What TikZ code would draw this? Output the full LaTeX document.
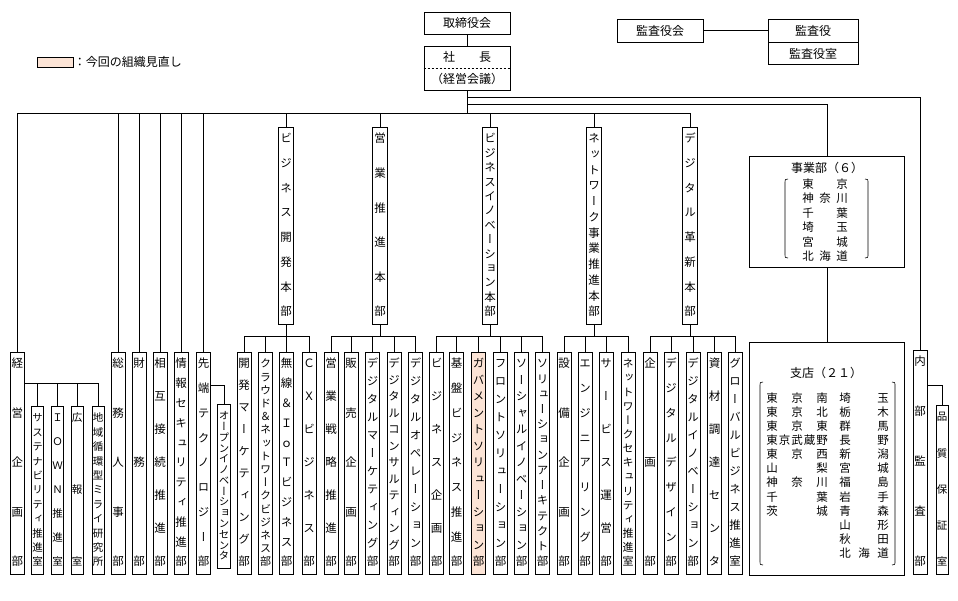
\documentclass[tikz,border=0pt]{standalone}
\usepackage{fontspec}
\usepackage{graphicx}
\newfontfamily\jp{Noto Sans CJK JP}
\newfontfamily\jpv[RawFeature=+vert]{Noto Sans CJK JP}
\definecolor{hl}{RGB}{252,228,214}
\tikzset{
  bx/.style={draw, line width=0.8pt, inner sep=0pt},
  tx/.style={font=\jp\fontsize{12}{14}\selectfont, inner sep=0pt},
  cj/.style={font=\jp\fontsize{11.5}{13}\selectfont, inner sep=0pt},
}
% \vcol[fill]{name}{x}{top}{bottom}{width}{fontsize}{chars}
\newcommand\vcol[8][white]{%
  \pgfmathsetmacro\vh{#5-#4}%
  \node[bx, fill=#1, minimum width=#6pt, minimum height=\vh pt, anchor=north] (#2) at (#3,#4) {};
  \foreach \c [count=\k] in {#8} {\xdef\nch{\k}}%
  \pgfmathsetmacro\vdy{(#5-#4-24)/(\nch-1)}%
  \foreach \c [count=\k] in {#8} {\node[font=\jpv\fontsize{#7}{#7}\selectfont, inner sep=0pt, text height=0.88em, text depth=0.12em] at (#3,{#4+12+(\k-1)*\vdy}) {\c};}%
}
\newcommand\brk[4]{%
  \draw[line width=0.6pt] ({#1+#4*3},#2) .. controls (#1,#2) .. (#1,{#2+5}) -- (#1,{#3-5}) .. controls (#1,#3) .. ({#1+#4*3},#3);
}
\begin{document}
\begin{tikzpicture}[x=1pt,y=-1pt, line width=0.8pt]
\fill[white] (0,0) rectangle (958,600);
\useasboundingbox (0,0) rectangle (958,600);

% legend
\node[bx, fill=hl, minimum width=36pt, minimum height=10pt] (leg) at (55,62) {};
\node[tx, anchor=west] (legt) at (leg.east) {：今回の組織見直し};

% top
\node[bx, tx, minimum width=86pt, minimum height=22pt] (tori) at (467,23) {取締役会};
\node[bx, minimum width=86pt, minimum height=44pt] (shacho) at (467,68) {};
\node[tx] (shachot) at (467,57) {社　　長};
\node[tx] (keieik) at (467,79) {（経営会議）};
\draw[dashed, dash pattern=on 2pt off 2pt] (shacho.west) -- (shacho.east);
\draw (tori.south) -- (shacho.north);

\node[bx, tx, minimum width=86pt, minimum height=23pt] (kai) at (660,30.5) {監査役会};
\node[bx, tx, minimum width=90pt, minimum height=23pt] (yaku) at (813,30.5) {監査役};
\node[bx, tx, minimum width=90pt, minimum height=22pt, anchor=north] (yakus) at (yaku.south) {監査役室};
\draw (kai.east) -- (yaku.west);

% top-level columns
\vcol{keiei}{17.5}{352}{574}{14}{11.5}{経,営,企,画,部}
\vcol{soumu}{118}{352}{574}{14}{11.5}{総,務,人,事,部}
\vcol{zaimu}{139}{352}{574}{14}{11.5}{財,務,部}
\vcol{sougo}{160}{352}{574}{14}{11.5}{相,互,接,続,推,進,部}
\vcol{joho}{181}{352}{574}{14}{11.5}{情,報,セ,キ,ュ,リ,テ,ィ,推,進,部}
\vcol{sentan}{203.5}{352}{574}{14}{11.5}{先,端,テ,ク,ノ,ロ,ジ,ー,部}

% sub of keiei
\vcol{sus}{37.5}{406}{574}{12}{10.5}{サ,ス,テ,ナ,ビ,リ,テ,ィ,推,進,室}
\vcol{iown}{57.5}{406}{574}{12}{10.5}{Ｉ,Ｏ,Ｗ,Ｎ,推,進,室}
\vcol{koho}{77}{406}{574}{12}{10.5}{広,報,室}
\vcol{chiiki}{98}{406}{574}{12}{10.5}{地,域,循,環,型,ミ,ラ,イ,研,究,所}
\vcol{open}{224}{404}{568}{13}{10.5}{オ,ー,プ,ン,イ,ノ,ベ,ー,シ,ョ,ン,セ,ン,タ}

% HQs
\vcol{hq1}{286}{127}{324}{15}{11.5}{ビ,ジ,ネ,ス,開,発,本,部}
\vcol{hq2}{380}{127}{324}{15}{11.5}{営,業,推,進,本,部}
\vcol{hq3}{490}{127}{324}{15}{11.5}{ビ,ジ,ネ,ス,イ,ノ,ベ,ー,シ,ョ,ン,本,部}
\vcol{hq4}{594}{127}{324}{15}{11.5}{ネ,ッ,ト,ワ,ー,ク,事,業,推,進,本,部}
\vcol{hq5}{690}{127}{324}{15}{11.5}{デ,ジ,タ,ル,革,新,本,部}

% children
\vcol{c11}{244}{352}{574}{14}{11.5}{開,発,マ,ー,ケ,テ,ィ,ン,グ,部}
\vcol{c12}{265.5}{352}{574}{14}{11}{ク,ラ,ウ,ド,＆,ネ,ッ,ト,ワ,ー,ク,ビ,ジ,ネ,ス,部}
\vcol{c13}{286.5}{352}{574}{14}{11.5}{無,線,＆,Ｉ,ｏ,Ｔ,ビ,ジ,ネ,ス,部}
\vcol{c14}{309}{352}{574}{14}{11.5}{Ｃ,Ｘ,ビ,ジ,ネ,ス,部}

\vcol{c21}{331}{352}{574}{14}{11.5}{営,業,戦,略,推,進,部}
\vcol{c22}{351}{352}{574}{14}{11.5}{販,売,企,画,部}
\vcol{c23}{372.5}{352}{574}{14}{11.5}{デ,ジ,タ,ル,マ,ー,ケ,テ,ィ,ン,グ,部}
\vcol{c24}{394}{352}{574}{14}{11.5}{デ,ジ,タ,ル,コ,ン,サ,ル,テ,ィ,ン,グ,部}
\vcol{c25}{415.5}{352}{574}{14}{11.5}{デ,ジ,タ,ル,オ,ペ,レ,ー,シ,ョ,ン,部}

\vcol{c31}{436.5}{352}{574}{14}{11.5}{ビ,ジ,ネ,ス,企,画,部}
\vcol{c32}{456.5}{352}{574}{14}{11.5}{基,盤,ビ,ジ,ネ,ス,推,進,部}
\vcol[hl]{c33}{478.5}{352}{574}{14}{11.5}{ガ,バ,メ,ン,ト,ソ,リ,ュ,ー,シ,ョ,ン,部}
\vcol{c34}{500.5}{352}{574}{14}{11.5}{フ,ロ,ン,ト,ソ,リ,ュ,ー,シ,ョ,ン,部}
\vcol{c35}{521.5}{352}{574}{14}{11.5}{ソ,ー,シ,ャ,ル,イ,ノ,ベ,ー,シ,ョ,ン,部}
\vcol{c36}{542.5}{352}{574}{14}{11.5}{ソ,リ,ュ,ー,シ,ョ,ン,ア,ー,キ,テ,ク,ト,部}

\vcol{c41}{564}{352}{574}{14}{11.5}{設,備,企,画,部}
\vcol{c42}{585}{352}{574}{14}{11.5}{エ,ン,ジ,ニ,ア,リ,ン,グ,部}
\vcol{c43}{606}{352}{574}{14}{11.5}{サ,ー,ビ,ス,運,営,部}
\vcol{c44}{628}{352}{574}{14}{11}{ネ,ッ,ト,ワ,ー,ク,セ,キ,ュ,リ,テ,ィ,推,進,室}

\vcol{c51}{650}{352}{574}{14}{11.5}{企,画,部}
\vcol{c52}{671}{352}{574}{14}{11.5}{デ,ジ,タ,ル,デ,ザ,イ,ン,部}
\vcol{c53}{693}{352}{574}{14}{11.5}{デ,ジ,タ,ル,イ,ノ,ベ,ー,シ,ョ,ン,部}
\vcol{c54}{714.5}{352}{574}{14}{11.5}{資,材,調,達,セ,ン,タ}
\vcol{c55}{735}{352}{574}{14}{11.5}{グ,ロ,ー,バ,ル,ビ,ジ,ネ,ス,推,進,室}

% right side
\vcol{naibu}{920}{350}{574}{14}{11.5}{内,部,監,査,部}
\vcol{hin}{942}{405}{574}{12}{10.5}{品,質,保,証,室}

\node[bx, minimum width=155pt, minimum height=111pt, anchor=north west] (jigyo) at (749,156) {};
\node[tx] (jigyot) at (827,168) {事業部（６）};
\brk{785}{179}{258}{1}
\brk{868}{179}{258}{-1}
\foreach \a/\b/\c [count=\i from 0] in {東//京,神/奈/川,千//葉,埼//玉,宮//城,北/海/道}{
  \node[cj] at (808,{184+14.5*\i}) {\a};
  \node[cj] at (825,{184+14.5*\i}) {\b};
  \node[cj] at (842,{184+14.5*\i}) {\c};
}

\node[bx, minimum width=155pt, minimum height=233pt, anchor=north west] (shiten) at (749,342) {};
\node[tx] (shitent) at (826,373) {支店（２１）};
\brk{760}{382}{565}{1}
\brk{895}{382}{565}{-1}
\foreach \a/\b/\c/\d/\e [count=\i from 0] in {東//京//南,東//京//北,東//京//東,東/京/武/蔵/野,東//京//西,山////梨,神//奈//川,千////葉,茨////城}{
  \node[cj] at (772,{398+14.1*\i}) {\a};
  \node[cj] at (784.5,{398+14.1*\i}) {\b};
  \node[cj] at (797,{398+14.1*\i}) {\c};
  \node[cj] at (809.5,{398+14.1*\i}) {\d};
  \node[cj] at (822,{398+14.1*\i}) {\e};
}
\foreach \a/\b/\c [count=\i from 0] in {埼//玉,栃//木,群//馬,長//野,新//潟,宮//城,福//島,岩//手,青//森,山//形,秋//田,北/海/道}{
  \node[cj] at (845,{398+14.1*\i}) {\a};
  \node[cj] at (864,{398+14.1*\i}) {\b};
  \node[cj] at (883,{398+14.1*\i}) {\c};
}

% connectors from president
\coordinate (m1) at (0,97);
\coordinate (m2) at (0,104);
\coordinate (mb) at (0,113);
\draw (shacho.south) -- (shacho.south |- mb);
\draw (shacho.south |- m1) -| (naibu.north);
\draw (shacho.south |- m2) -| (jigyo.north);
\draw (jigyo.south) -- (shiten.north);
\draw (keiei.north |- mb) -- (hq5.north |- mb);
\foreach \n in {keiei,soumu,zaimu,sougo,joho,sentan,hq1,hq2,hq3,hq4,hq5}
  \draw (\n.north) -- (\n.north |- mb);

% sub branches
\coordinate (kb) at (0,383);
\draw (keiei.east |- kb) -- (chiiki.north |- kb);
\foreach \n in {sus,iown,koho,chiiki} \draw (\n.north) -- (\n.north |- kb);
\coordinate (sb) at (0,385);
\draw (sentan.east |- sb) -| (open.north);
\draw (naibu.east |- sb) -| (hin.north);

% HQ buses
\coordinate (hb) at (0,336);
\foreach \h/\f/\l/\list in {hq1/c11/c14/{c11,c12,c13,c14}, hq2/c21/c25/{c21,c22,c23,c24,c25}, hq3/c31/c36/{c31,c32,c33,c34,c35,c36}, hq4/c41/c44/{c41,c42,c43,c44}, hq5/c51/c55/{c51,c52,c53,c54,c55}}{
  \draw (\h.south) -- (\h.south |- hb);
  \draw (\f.north |- hb) -- (\l.north |- hb);
  \foreach \n in \list \draw (\n.north) -- (\n.north |- hb);
}
\end{tikzpicture}
\end{document}
